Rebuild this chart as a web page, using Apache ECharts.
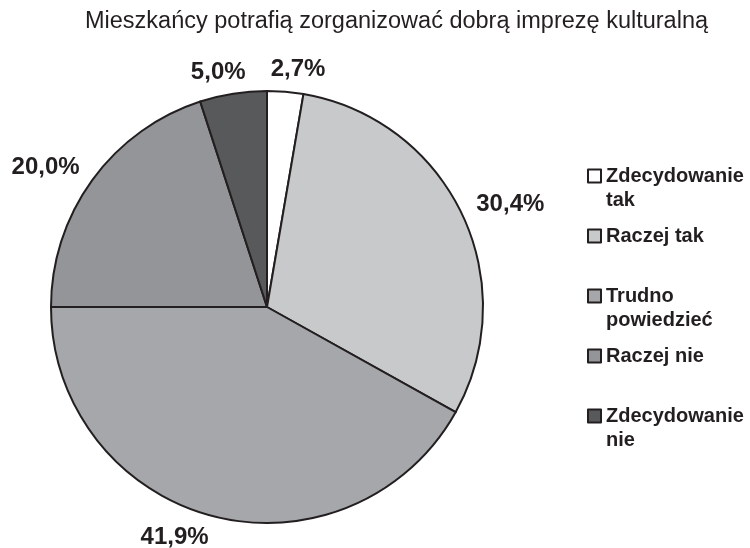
<!DOCTYPE html>
<html>
<head>
<meta charset="utf-8">
<script src="https://cdn.jsdelivr.net/npm/echarts@6/dist/echarts.min.js"></script>
<style>
html, body { margin: 0; padding: 0; background: #fff; }
#pie { width: 750px; height: 548px; }
</style>
</head>
<body>
<div id="pie"></div>
<script>
// dane
var categories = ['Zdecydowanie\ntak', 'Raczej tak', 'Trudno\npowiedzieć', 'Raczej nie', 'Zdecydowanie\nnie'];
var values = [2.7, 30.4, 41.9, 20.0, 5.0];
var colors = ['#ffffff', '#c8c9cb', '#a6a7aa', '#949599', '#58595b'];
var title = 'Mieszkańcy potrafią zorganizować dobrą imprezę kulturalną';

var font = '"Liberation Sans", Arial, sans-serif';
var cx = 267, cy = 307;

var pie = echarts.init(document.getElementById('pie'));

// kat srodka kazdego wycinka (od gory, zgodnie z zegarem)
var total = values.reduce(function(a, b) { return a + b; }, 0);
var midAngles = [];
var acc = 0;
for (var i = 0; i < values.length; i++) {
    midAngles.push((acc + values[i] / 2) / total * Math.PI * 2);
    acc += values[i];
}

var data = categories.map(function(name, i) {
    return { name: name, value: values[i], itemStyle: { color: colors[i] } };
});

// osobna legenda dla kazdej pozycji, ikona przy pierwszej linii
var lineH = 24;
var legends = categories.map(function(name, i) {
    var twoLines = name.indexOf('\n') >= 0;
    var iconCenter = 176 + i * 60;
    return {
        orient: 'vertical',
        left: 587,
        top: iconCenter - (twoLines ? lineH * 1.5 : lineH / 2),
        padding: 0,
        icon: 'rect',
        itemWidth: 13,
        itemHeight: 13,
        itemGap: 0,
        selectedMode: false,
        formatter: function(n) {
            return twoLines ? ' \n' + n : n;
        },
        textStyle: {
            color: '#231f20',
            fontFamily: font,
            fontWeight: 'bold',
            fontSize: 20,
            lineHeight: lineH
        },
        data: [name]
    };
});

option = {
    backgroundColor: '#ffffff',
    title: {
        text: title,
        left: 85,
        top: 10,
        padding: 0,
        textStyle: {
            color: '#231f20',
            fontFamily: font,
            fontWeight: 'normal',
            fontSize: 23.5
        }
    },
    legend: legends,
    series: [{
        type: 'pie',
        center: [cx, cy],
        radius: [0, 216],
        startAngle: 90,
        clockwise: true,
        animation: false,
        avoidLabelOverlap: false,
        itemStyle: {
            borderColor: '#231f20',
            borderWidth: 2
        },
        label: {
            show: true,
            position: 'outside',
            distanceToLabelLine: 0,
            formatter: function(p) {
                return p.value.toFixed(1).replace('.', ',') + '%';
            },
            color: '#231f20',
            fontFamily: font,
            fontWeight: 'bold',
            fontSize: 24
        },
        labelLine: {
            show: false,
            length: 16,
            length2: 0
        },
        labelLayout: function(p) {
            var a = midAngles[p.dataIndex];
            var s = Math.sin(a), c = Math.cos(a);
            var w = p.labelRect.width;
            var dx = -(s >= 0 ? 1 : -1) * 0.3 * w * Math.pow(Math.max(0, c), 8);
            return { dx: dx, dy: -c * 6 };
        },
        data: data
    }]
};
pie.setOption(option);

window.addEventListener('resize', function() {
    pie.resize();
});
</script>
</body>
</html>
